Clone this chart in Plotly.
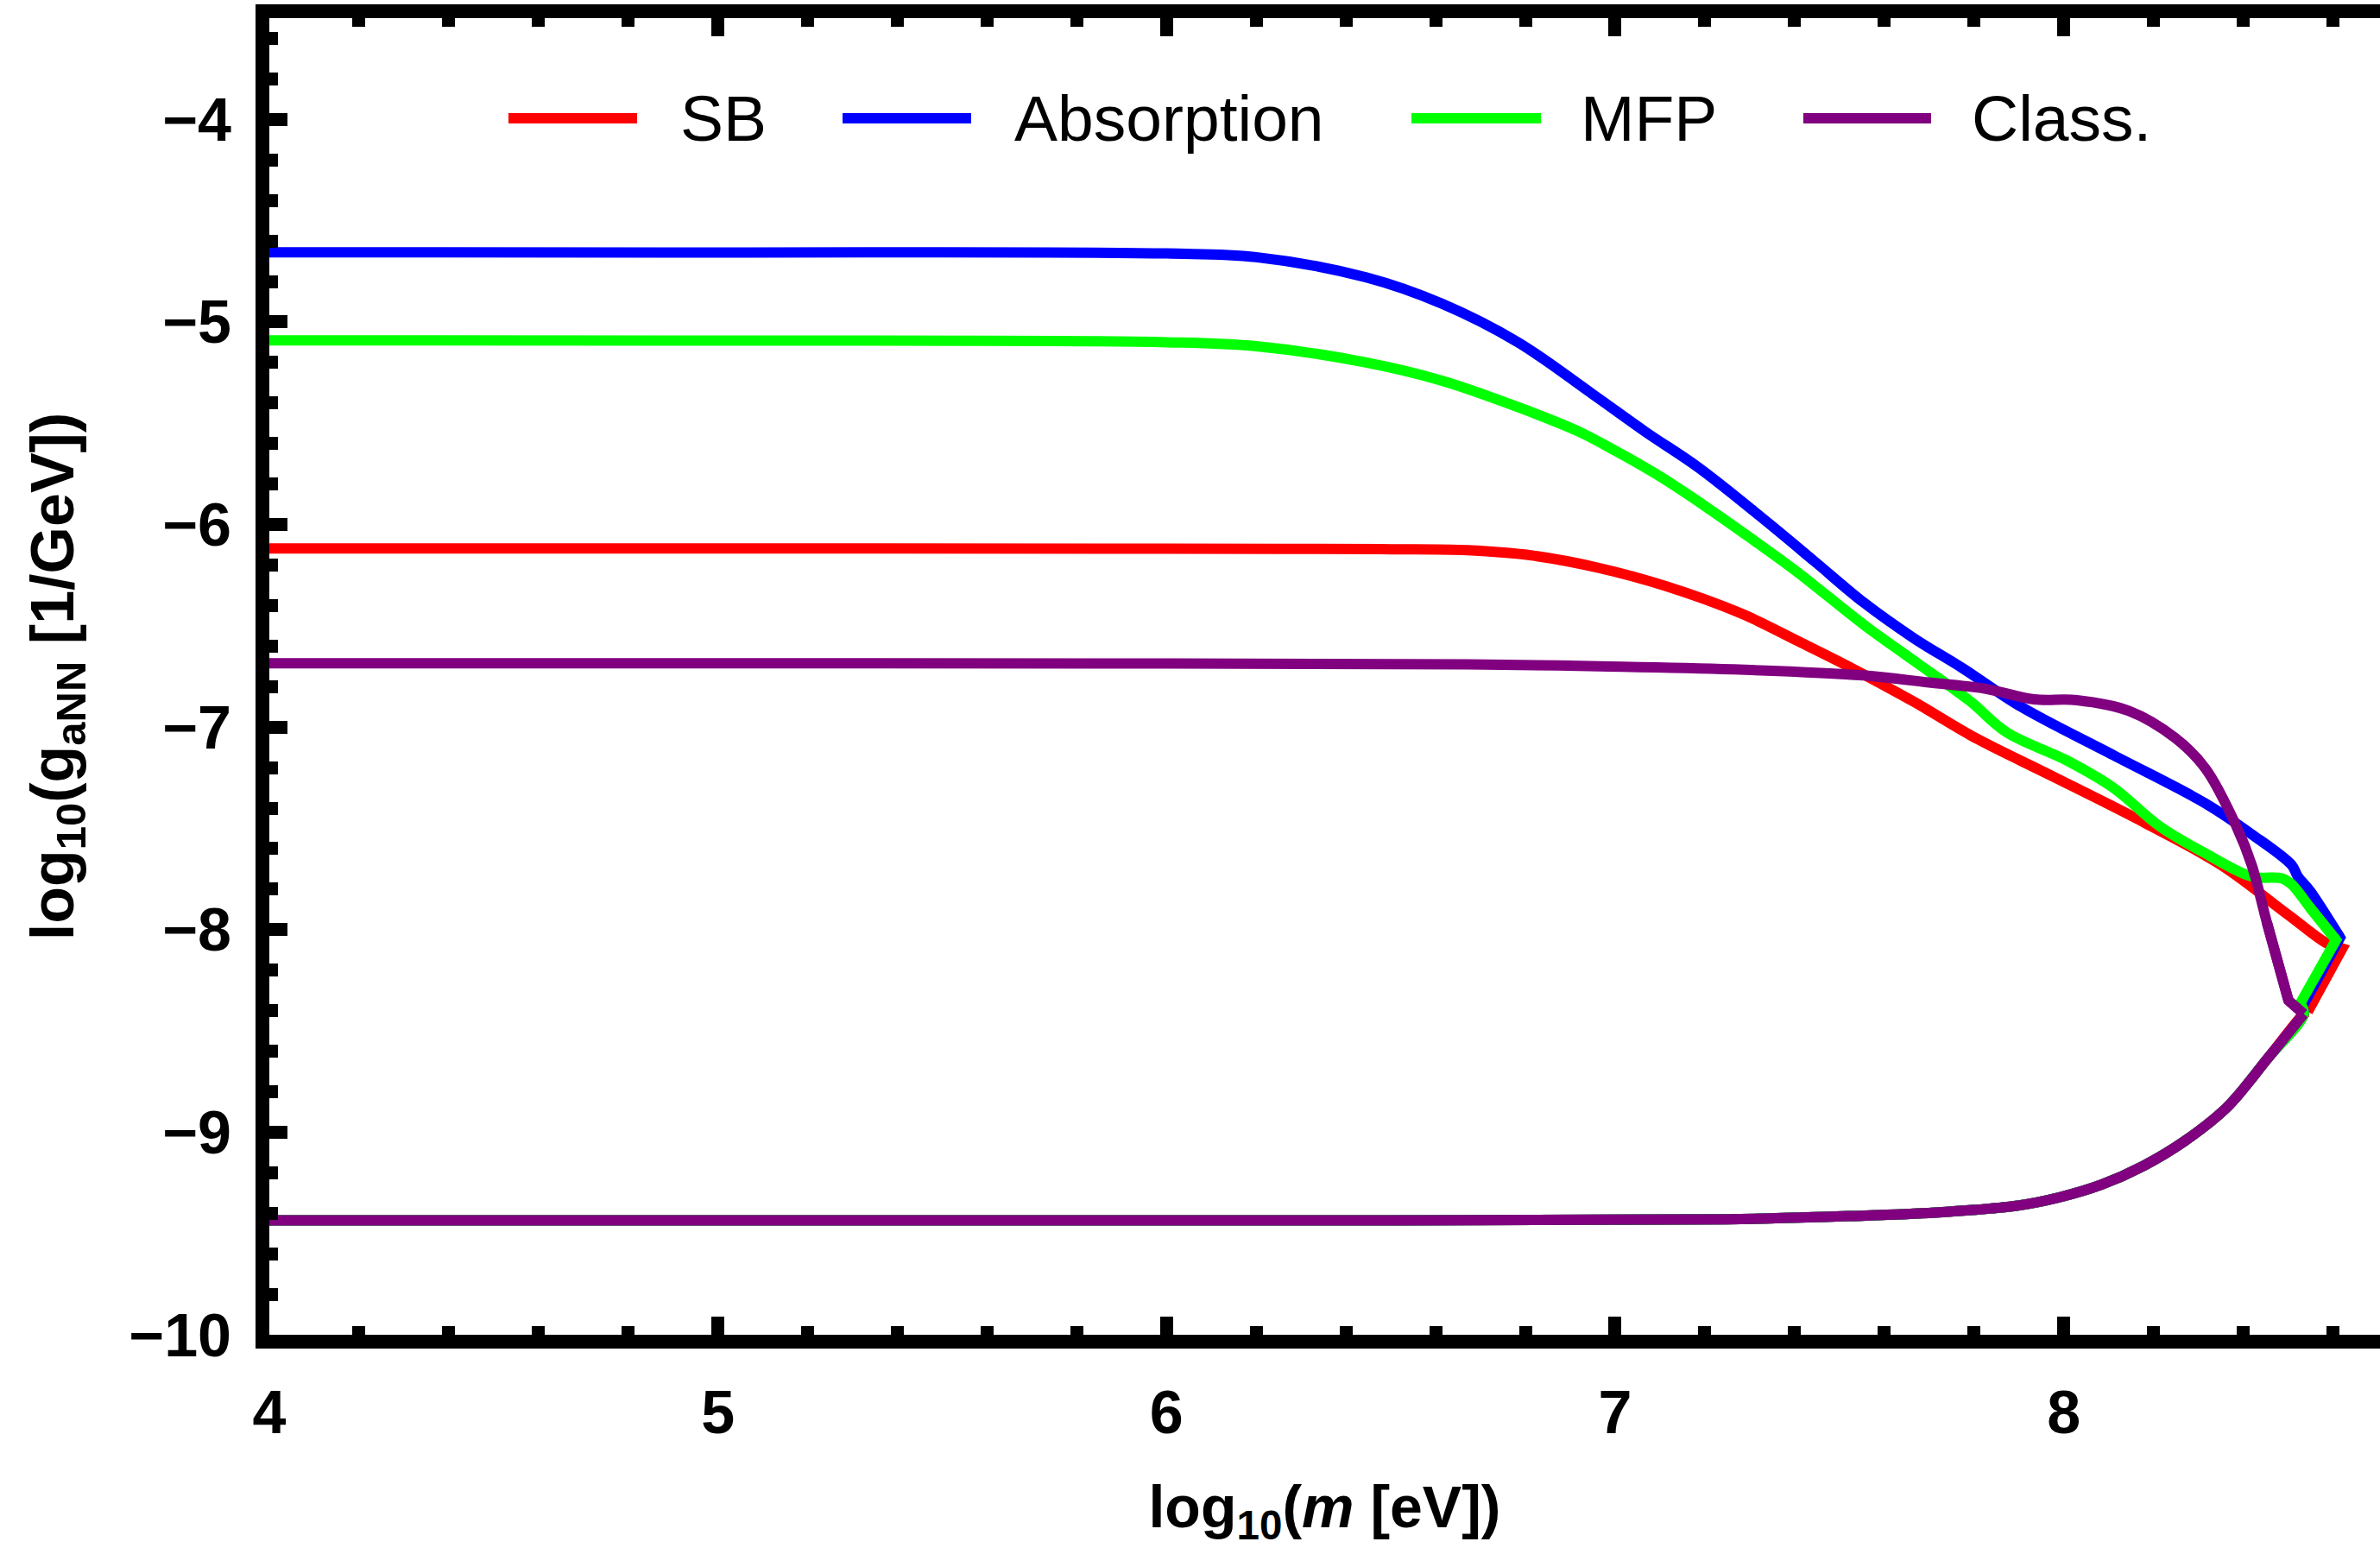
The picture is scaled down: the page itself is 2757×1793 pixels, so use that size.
import plotly.graph_objects as go

FONT = "Liberation Sans, Arial, Helvetica, sans-serif"

# x: log10(m [eV]),  y: log10(g_aNN [1/GeV]) along the upper edge of each bound
sb_x = [4.0, 5.0, 6.0, 6.3, 6.5, 6.671, 6.818, 6.965, 7.113, 7.282, 7.407, 7.517,
        7.665, 7.80, 7.975, 8.18, 8.351, 8.501, 8.589, 8.621]
sb_y = [-6.118, -6.118, -6.119, -6.12, -6.122, -6.127, -6.154, -6.215, -6.304, -6.44,
        -6.575, -6.697, -6.874, -7.05, -7.243, -7.472, -7.681, -7.928, -8.071, -8.093]

abs_x = [4.0, 5.0, 6.0, 6.2, 6.445, 6.614, 6.783, 6.952, 7.068, 7.186, 7.333, 7.444,
         7.554, 7.665, 7.775, 7.906, 8.111, 8.316, 8.419, 8.508, 8.522, 8.549, 8.616]
abs_y = [-4.656, -4.657, -4.662, -4.68, -4.78, -4.91, -5.10, -5.36, -5.543, -5.719,
         -5.977, -6.181, -6.385, -6.56, -6.71, -6.901, -7.139, -7.377, -7.529, -7.681,
         -7.738, -7.809, -8.039]

mfp_x = [4.0, 5.0, 6.0, 6.2, 6.445, 6.614, 6.783, 6.921, 7.002, 7.098, 7.201, 7.297,
         7.407, 7.554, 7.665, 7.79, 7.872, 8.009, 8.111, 8.214, 8.316, 8.419, 8.487,
         8.508, 8.549, 8.607]
mfp_y = [-5.091, -5.092, -5.10, -5.12, -5.2, -5.29, -5.42, -5.543, -5.638, -5.76, -5.91,
         -6.059, -6.236, -6.494, -6.671, -6.87, -7.025, -7.167, -7.30, -7.49, -7.624,
         -7.738, -7.747, -7.776, -7.891, -8.051]

cls_x = [4.0, 5.0, 6.0, 6.671, 6.965, 7.26, 7.554, 7.70, 7.824, 7.934, 8.029, 8.145,
         8.248, 8.316, 8.385, 8.419, 8.453, 8.501]
cls_y = [-6.685, -6.685, -6.686, -6.69, -6.70, -6.715, -6.745, -6.78, -6.81, -6.863,
         -6.867, -6.92, -7.053, -7.205, -7.49, -7.681, -7.966, -8.35]

# where each bound turns back onto the common lower (trapping) edge
sb_join = (8.544, -8.405)
abs_join = (8.532, -8.38)
mfp_join = (8.527, -8.365)
cls_join = (8.535, -8.416)

# common lower edge, from the tip back to small masses
low_x = [8.535, 8.456, 8.363, 8.270, 8.177, 8.084, 7.991, 7.898, 7.713, 7.527, 7.248,
         6.5, 5.0, 4.0]
low_y = [-8.416, -8.632, -8.879, -9.043, -9.167, -9.259, -9.321, -9.362, -9.397, -9.414,
         -9.43, -9.435, -9.435, -9.435]

series = [
    ("SB", "#ff0000", sb_x, sb_y, sb_join),
    ("Absorption", "#0000ff", abs_x, abs_y, abs_join),
    ("MFP", "#00ff00", mfp_x, mfp_y, mfp_join),
    ("Class.", "#800080", cls_x, cls_y, cls_join),
]

W, H = 2757, 1793
L, R, T, B = 312, 0, 21, 247
X_RANGE = [4.0, 8.705]
Y_RANGE = [-10.0, -3.5]
LW = 12

fig = go.Figure()


def add_piece(xs, ys, color, name, shape):
    fig.add_trace(go.Scatter(x=xs, y=ys, mode="lines", name=name,
                             line=dict(color=color, width=LW, shape=shape,
                                       smoothing=1.0 if shape == "spline" else None),
                             showlegend=False, hoverinfo="skip"))


for name, color, ux, uy, join in series:
    # smooth upper edge
    add_piece(ux, uy, color, name, "spline")
    # sharp tip: last upper step, the turn-back and the join onto the lower edge
    add_piece(ux[-2:] + [join[0]], uy[-2:] + [join[1]], color, name, "linear")
    # smooth lower edge
    if (join[0], join[1]) == (low_x[0], low_y[0]):
        lx, ly = low_x, low_y
    else:
        lx, ly = [join[0]] + low_x, [join[1]] + low_y
    add_piece(lx, ly, color, name, "spline")

# legend row drawn inside the frame
plot_w = W - L - R
plot_h = H - T - B


def px_to_paper_x(px):
    return (px - L) / plot_w


def px_to_paper_y(py):
    return (H - B - py) / plot_h


legend_items = [(589, 738, 786), (976, 1125, 1173), (1635, 1785, 1829), (2089, 2237, 2282)]
legend_y = 137
shapes = []
annotations = []
for (name, color, _, _, _), (x0, x1, xt) in zip(series, legend_items):
    shapes.append(dict(type="line", xref="paper", yref="paper",
                       x0=px_to_paper_x(x0), x1=px_to_paper_x(x1),
                       y0=px_to_paper_y(legend_y), y1=px_to_paper_y(legend_y),
                       line=dict(color=color, width=LW)))
    annotations.append(dict(text=name, xref="paper", yref="paper",
                            x=px_to_paper_x(xt), y=px_to_paper_y(legend_y),
                            xanchor="left", yanchor="middle", showarrow=False,
                            font=dict(family=FONT, size=75, color="black")))

tick_font = dict(family=FONT, size=70, color="black", weight="bold")
xtitle_font = dict(family=FONT, size=68, color="black", weight="bold")
ytitle_font = dict(family=FONT, size=70, color="black", weight="bold")

fig.update_layout(
    width=W, height=H,
    margin=dict(l=L, r=R, t=T, b=B, pad=0),
    paper_bgcolor="white", plot_bgcolor="white",
    shapes=shapes, annotations=annotations,
    xaxis=dict(
        range=X_RANGE, showgrid=False, zeroline=False,
        showline=True, linewidth=16, linecolor="black", mirror="ticks",
        ticks="inside", ticklen=21, tickwidth=15, tickcolor="black",
        tick0=4, dtick=1, tickfont=tick_font, ticklabelstandoff=14,
        minor=dict(ticks="inside", ticklen=10, tickwidth=15, tickcolor="black",
                   dtick=0.2, tick0=4, showgrid=False),
        title=dict(text="log<sub>10</sub>(<i>m</i> [eV])", font=xtitle_font, standoff=60),
    ),
    yaxis=dict(
        range=Y_RANGE, showgrid=False, zeroline=False,
        showline=True, linewidth=16, linecolor="black", mirror=False,
        ticks="inside", ticklen=21, tickwidth=15, tickcolor="black",
        tick0=-10, dtick=1, tickfont=tick_font, ticklabelstandoff=14,
        minor=dict(ticks="inside", ticklen=10, tickwidth=15, tickcolor="black",
                   dtick=0.2, tick0=-10, showgrid=False),
        title=dict(text="log<sub>10</sub>(g<sub>aNN</sub> [1/GeV])", font=ytitle_font,
                   standoff=48),
    ),
    # short stubs of the right-hand frame ticks at the edge
    yaxis2=dict(
        range=Y_RANGE, overlaying="y", side="right", anchor="x",
        showgrid=False, zeroline=False, showline=False, showticklabels=False,
        ticks="inside", ticklen=6, tickwidth=15, tickcolor="black",
        tick0=-10, dtick=1,
    ),
)

fig.write_html("out.html", config={"displayModeBar": False},
               post_script="document.body.style.margin='0px';")
